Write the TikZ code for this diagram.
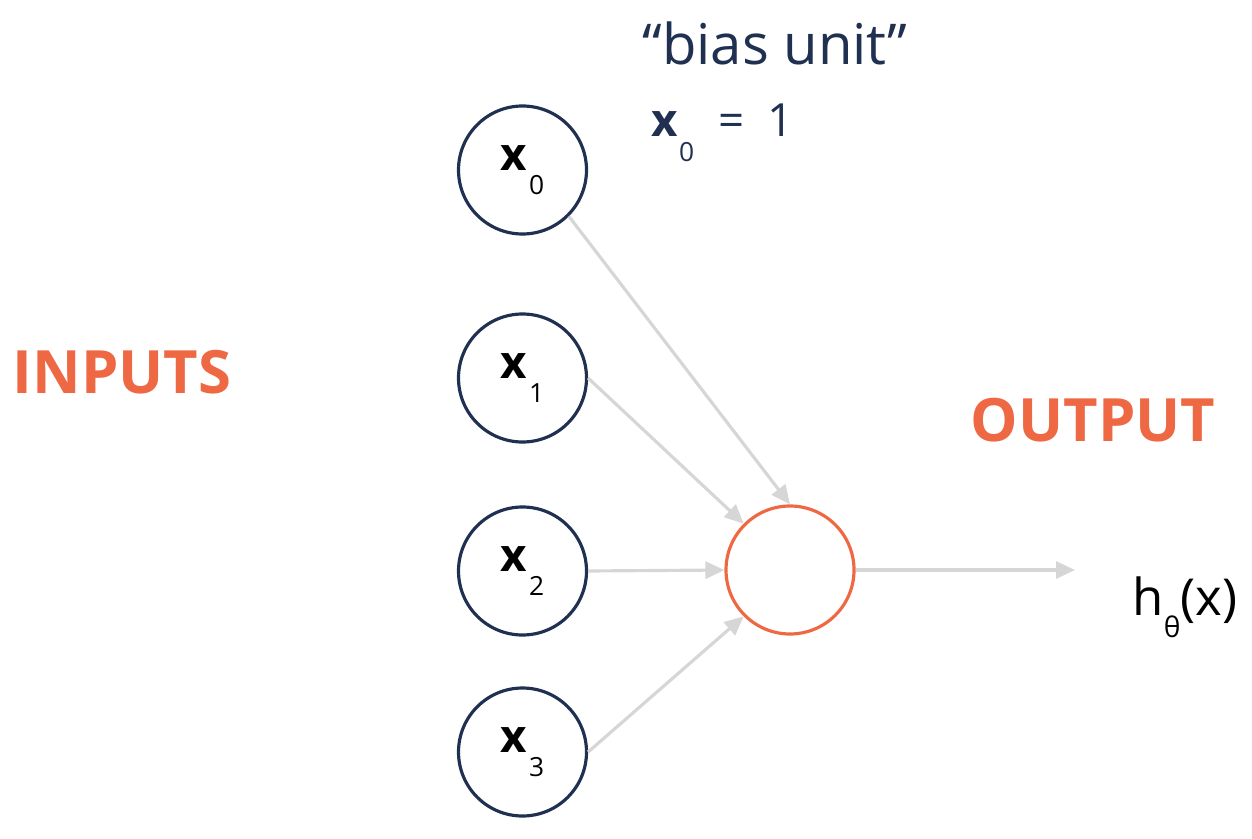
\documentclass[tikz,border=0pt]{standalone}
\usepackage{fontspec}
\setmainfont{Open Sans}
\usetikzlibrary{arrows.meta}
\definecolor{navy}{HTML}{1F3050}
\definecolor{coral}{HTML}{EE6844}
\definecolor{wire}{HTML}{D6D6D6}
\newcommand{\xvar}[1]{{\bfseries x}\kern1pt\raisebox{-1.0ex}{\fontsize{15}{15}\selectfont #1}}
\begin{document}
\begin{tikzpicture}[every node/.style={font=\fontsize{26}{26}\selectfont},
  >={Triangle[length=0.38cm,width=0.34cm]},
  unit/.style={circle,draw=navy,line width=1.8pt,minimum size=2.56cm,inner sep=0pt},
  sum/.style={circle,draw=coral,line width=1.8pt,minimum size=2.56cm,inner sep=0pt},
  title/.style={text=coral,font=\fontsize{34}{34}\selectfont\bfseries},
  wire/.style={->,draw=wire,line width=1.8pt}]
\useasboundingbox (0,0) rectangle (25.04,16.76);

\node (INP) at (2.44,9.32) [title] {INPUTS};
\node (OUT) at (21.86,8.36) [title] {OUTPUT};
\node (bias) at (15.5,15.9) [text=navy,font=\fontsize{32}{32}\selectfont] {“bias unit”};
\node (eqn) at (14.45,14.1) [text=navy] {\xvar{0}\ \ =\ \ 1};

\node (X0) at (10.45,13.36) [unit] {\xvar{0}};
\node (X1) at (10.45,9.2) [unit] {\xvar{1}};
\node (X2) at (10.45,5.34) [unit] {\xvar{2}};
\node (X3) at (10.45,1.72) [unit] {\xvar{3}};

\node (S) at (15.8,5.36) [sum] {};
\coordinate (end) at (21.5,5.36);
\node (h) at (23.7,4.62) [font=\fontsize{29}{29}\selectfont] {h\raisebox{-0.8ex}{\fontsize{16}{16}\selectfont θ}(x)};

\draw[wire] (X0.south east) -- (S.north);
\draw[wire] (X1.east) -- (S.north west);
\draw[wire] (X2.east) -- (S.west);
\draw[wire] (X3.east) -- (S.south west);
\draw[wire] (S.east) -- (end);

\end{tikzpicture}
\end{document}
